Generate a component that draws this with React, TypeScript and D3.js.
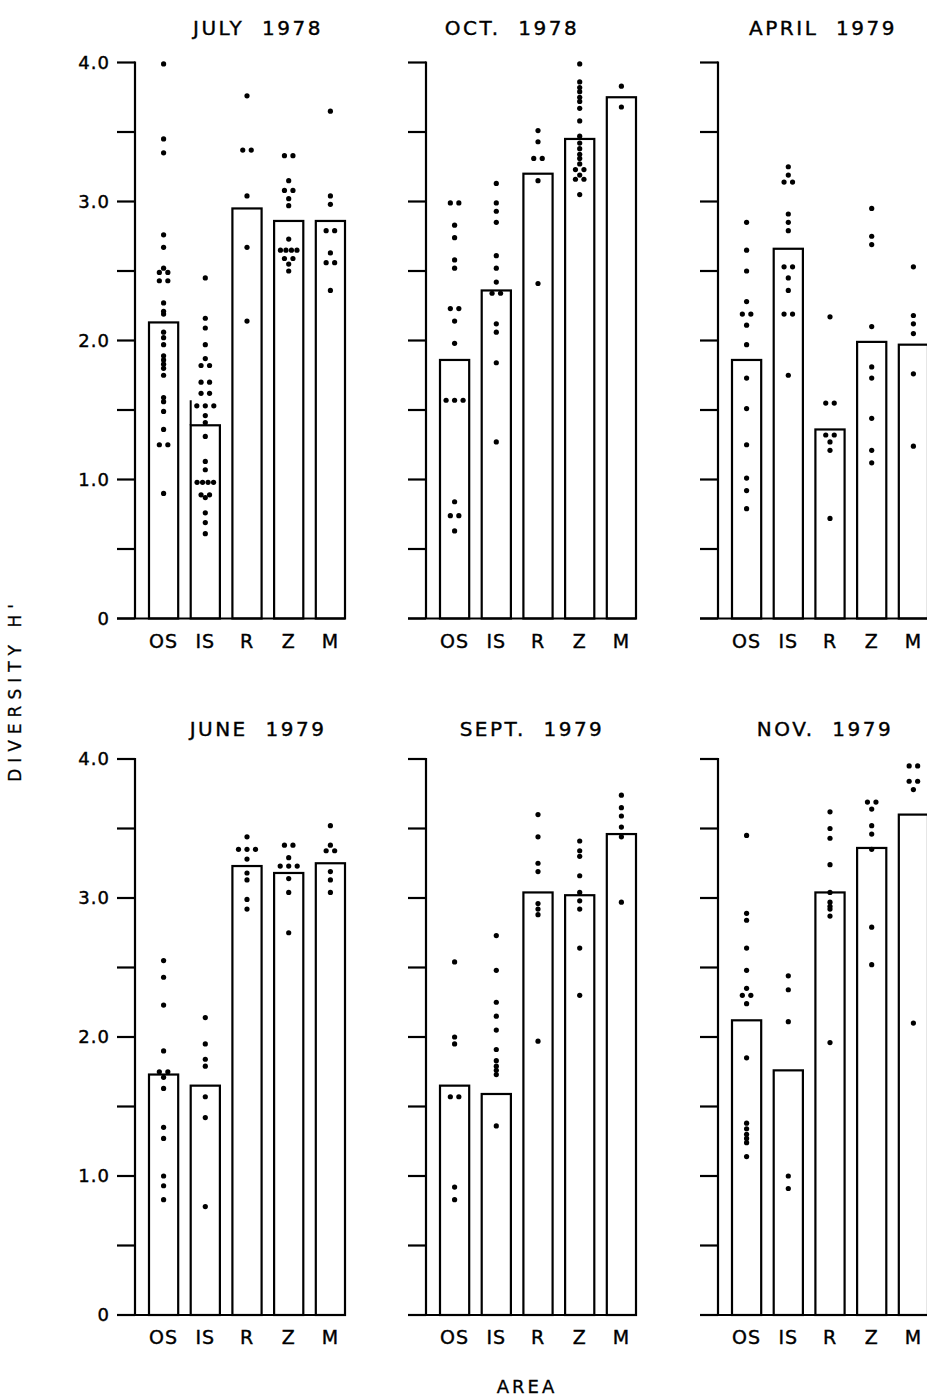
import React, { useEffect, useRef } from "react";
import * as d3 from "d3";

// ---- data ----
const areas = ["OS", "IS", "R", "Z", "M"];
const surveyTitles = ["JULY  1978", "OCT.  1978", "APRIL  1979", "JUNE  1979", "SEPT.  1979", "NOV.  1979"];
const yTickValues = [0, 0.5, 1, 1.5, 2, 2.5, 3, 3.5, 4];
const yTickLabels = ["0", "", "1.0", "", "2.0", "", "3.0", "", "4.0"];

// bar heights (mean diversity H') per area, OS IS R Z M
const meanJul78 = [2.13, 1.39, 2.95, 2.86, 2.86];
const meanOct78 = [1.86, 2.36, 3.2, 3.45, 3.75];
const meanApr79 = [1.86, 2.66, 1.36, 1.99, 1.97];
const meanJun79 = [1.73, 1.65, 3.23, 3.18, 3.25];
const meanSep79 = [1.65, 1.59, 3.04, 3.02, 3.46];
const meanNov79 = [2.12, 1.76, 3.04, 3.36, 3.6];

// individual station values
const dotsJul78 = [
  [3.99, 3.45, 3.35, 2.76, 2.67, 2.52, 2.49, 2.49, 2.43, 2.43, 2.27, 2.21, 2.19, 2.06, 2.02, 1.97, 1.89, 1.86, 1.83, 1.8, 1.75, 1.59, 1.56, 1.49, 1.36, 1.25, 1.25, 0.9],
  [2.45, 2.16, 2.09, 1.97, 1.87, 1.82, 1.82, 1.7, 1.7, 1.62, 1.62, 1.53, 1.53, 1.53, 1.46, 1.41, 1.31, 1.13, 1.07, 0.98, 0.98, 0.98, 0.98, 0.89, 0.89, 0.87, 0.76, 0.69, 0.61],
  [3.76, 3.37, 3.37, 3.04, 2.67, 2.14],
  [3.33, 3.33, 3.15, 3.08, 3.08, 3.02, 2.97, 2.73, 2.65, 2.65, 2.65, 2.65, 2.59, 2.59, 2.55, 2.5],
  [3.65, 3.04, 2.98, 2.79, 2.79, 2.63, 2.56, 2.56, 2.36],
];
const dotsOct78 = [
  [2.99, 2.99, 2.83, 2.74, 2.58, 2.52, 2.23, 2.23, 2.14, 1.98, 1.57, 1.57, 1.57, 0.84, 0.74, 0.74, 0.63],
  [3.13, 2.99, 2.93, 2.85, 2.61, 2.52, 2.42, 2.34, 2.34, 2.12, 2.06, 1.84, 1.27],
  [3.51, 3.43, 3.31, 3.31, 3.15, 2.41],
  [3.99, 3.86, 3.82, 3.79, 3.75, 3.72, 3.67, 3.58, 3.47, 3.42, 3.38, 3.34, 3.31, 3.27, 3.23, 3.23, 3.19, 3.16, 3.16, 3.05],
  [3.83, 3.68],
];
const dotsApr79 = [
  [2.85, 2.65, 2.5, 2.28, 2.19, 2.19, 2.11, 1.97, 1.73, 1.51, 1.25, 1.01, 0.92, 0.79],
  [3.25, 3.19, 3.14, 3.14, 2.91, 2.85, 2.79, 2.53, 2.53, 2.45, 2.36, 2.19, 2.19, 1.75],
  [2.17, 1.55, 1.55, 1.32, 1.32, 1.27, 1.21, 0.72],
  [2.95, 2.75, 2.69, 2.1, 1.81, 1.73, 1.44, 1.21, 1.12],
  [2.53, 2.18, 2.12, 2.05, 1.76, 1.24],
];
const dotsJun79 = [
  [2.55, 2.43, 2.23, 1.9, 1.75, 1.75, 1.71, 1.63, 1.35, 1.27, 1.0, 0.93, 0.83],
  [2.14, 1.95, 1.84, 1.79, 1.57, 1.42, 0.78],
  [3.44, 3.35, 3.35, 3.35, 3.28, 3.18, 3.13, 2.99, 2.92],
  [3.38, 3.38, 3.29, 3.23, 3.23, 3.23, 3.14, 3.04, 2.75],
  [3.52, 3.38, 3.34, 3.34, 3.19, 3.13, 3.04],
];
const dotsSep79 = [
  [2.54, 2.0, 1.95, 1.57, 1.57, 0.92, 0.83],
  [2.73, 2.48, 2.25, 2.15, 2.05, 1.91, 1.83, 1.79, 1.76, 1.73, 1.36],
  [3.6, 3.44, 3.25, 3.19, 2.96, 2.92, 2.88, 1.97],
  [3.41, 3.34, 3.3, 3.16, 3.04, 2.98, 2.92, 2.64, 2.3],
  [3.74, 3.65, 3.59, 3.51, 3.44, 2.97],
];
const dotsNov79 = [
  [3.45, 2.89, 2.84, 2.64, 2.48, 2.35, 2.3, 2.3, 2.24, 1.85, 1.38, 1.34, 1.3, 1.27, 1.24, 1.14],
  [2.44, 2.34, 2.11, 1.0, 0.91],
  [3.62, 3.5, 3.43, 3.24, 3.04, 2.97, 2.94, 2.92, 2.87, 1.96],
  [3.69, 3.69, 3.64, 3.52, 3.46, 3.35, 2.79, 2.52],
  [3.95, 3.95, 3.84, 3.84, 3.78, 2.1],
];

// left edge of the July 1978 IS bar is drawn up to this value
const julyIsEdgeTop = 1.57;

const meansBySurvey = [meanJul78, meanOct78, meanApr79, meanJun79, meanSep79, meanNov79];
const dotsBySurvey = [dotsJul78, dotsOct78, dotsApr79, dotsJun79, dotsSep79, dotsNov79];

const W = 927;
const H = 1397;
const FONT = "'DejaVu Sans', sans-serif";

const App = () => {
  const svgRef = useRef<SVGSVGElement>(null);

  useEffect(() => {
    const svg = d3.select(svgRef.current);
    svg.selectAll("*").remove();

    const axisX = [135, 426, 718];
    const rowBase = [618.5, 1315];
    const plotH = 556;
    const titleY = [35, 736];
    const titleDx = [123, 86, 105, 123, 106, 107];

    surveyTitles.forEach((title, i) => {
      const col = i % 3;
      const row = Math.floor(i / 3);
      const ax = axisX[col];
      const means = meansBySurvey[i];
      const dots = dotsBySurvey[i];

      const y = d3.scaleLinear().domain([0, 4]).range([rowBase[row], rowBase[row] - plotH]);
      const x = d3
        .scaleBand()
        .domain(areas)
        .range([ax + 14, ax + 210])
        .paddingInner(0.3)
        .paddingOuter(0);

      const g = svg.append("g");

      // ticks
      g.selectAll("line.tick")
        .data(yTickValues)
        .enter()
        .append("line")
        .attr("x1", ax - 18)
        .attr("x2", ax)
        .attr("y1", d => y(d))
        .attr("y2", d => y(d))
        .attr("stroke", "#000")
        .attr("stroke-width", 2.2);

      if (col === 0) {
        g.selectAll("text.tl")
          .data(yTickValues)
          .enter()
          .append("text")
          .attr("x", ax - 25)
          .attr("y", d => y(d))
          .attr("dy", "0.36em")
          .attr("text-anchor", "end")
          .attr("font-family", FONT)
          .attr("font-size", 18)
          .attr("letter-spacing", 1)
          .attr("stroke", "#000")
          .attr("stroke-width", 0.4)
          .text((d, k) => yTickLabels[k]);
      }

      // axis line + baseline
      g.append("line")
        .attr("x1", ax)
        .attr("x2", ax)
        .attr("y1", y(4) - 1.1)
        .attr("y2", y(0))
        .attr("stroke", "#000")
        .attr("stroke-width", 2.2);
      g.append("line")
        .attr("x1", ax - 18)
        .attr("x2", ax + 210)
        .attr("y1", y(0))
        .attr("y2", y(0))
        .attr("stroke", "#000")
        .attr("stroke-width", 2.2);

      // bars
      g.selectAll("rect.bar")
        .data(areas)
        .enter()
        .append("rect")
        .attr("x", a => x(a)!)
        .attr("y", (a, k) => y(means[k]))
        .attr("width", x.bandwidth())
        .attr("height", (a, k) => y(0) - y(means[k]))
        .attr("fill", "none")
        .attr("stroke", "#000")
        .attr("stroke-width", 2.2);

      if (i === 0) {
        g.append("line")
          .attr("x1", x("IS")!)
          .attr("x2", x("IS")!)
          .attr("y1", y(means[1]))
          .attr("y2", y(julyIsEdgeTop))
          .attr("stroke", "#000")
          .attr("stroke-width", 2);
      }

      // station dots, equal values spread sideways
      areas.forEach((a, k) => {
        const cx = x(a)! + x.bandwidth() / 2;
        const groups = d3.group(dots[k], v => v);
        groups.forEach((vals, v) => {
          const n = vals.length;
          const gap = n <= 3 ? 8.5 : 5.5;
          vals.forEach((_, j) => {
            g.append("circle")
              .attr("cx", cx + (j - (n - 1) / 2) * gap)
              .attr("cy", y(v))
              .attr("r", 2.6)
              .attr("fill", "#000");
          });
        });
      });

      // area labels
      g.selectAll("text.area")
        .data(areas)
        .enter()
        .append("text")
        .attr("x", a => x(a)! + x.bandwidth() / 2)
        .attr("y", y(0) + 29)
        .attr("text-anchor", "middle")
        .attr("font-family", FONT)
        .attr("font-size", 19)
        .attr("letter-spacing", 1)
        .attr("stroke", "#000")
        .attr("stroke-width", 0.4)
        .text(a => a);

      // survey title
      g.append("text")
        .attr("x", ax + titleDx[i])
        .attr("y", titleY[row])
        .attr("text-anchor", "middle")
        .attr("font-family", FONT)
        .attr("font-size", 20)
        .attr("letter-spacing", 2.5)
        .attr("stroke", "#000")
        .attr("stroke-width", 0.4)
        .style("white-space", "pre")
        .text(title);
    });

    svg.append("text")
      .attr("transform", "translate(21,690) rotate(-90)")
      .attr("text-anchor", "middle")
      .attr("font-family", FONT)
      .attr("font-size", 17)
      .attr("letter-spacing", 6)
      .attr("stroke", "#000")
      .attr("stroke-width", 0.3)
      .text("DIVERSITY H'");

    svg.append("text")
      .attr("x", 527)
      .attr("y", 1393)
      .attr("text-anchor", "middle")
      .attr("font-family", FONT)
      .attr("font-size", 18)
      .attr("letter-spacing", 3)
      .attr("stroke", "#000")
      .attr("stroke-width", 0.3)
      .text("AREA");
  }, []);

  return (
    <div style={{ position: "absolute", left: 0, top: 0, width: W, height: H, background: "#fff" }}>
      <svg ref={svgRef} width={W} height={H} viewBox={`0 0 ${W} ${H}`} />
    </div>
  );
};

export default App;
